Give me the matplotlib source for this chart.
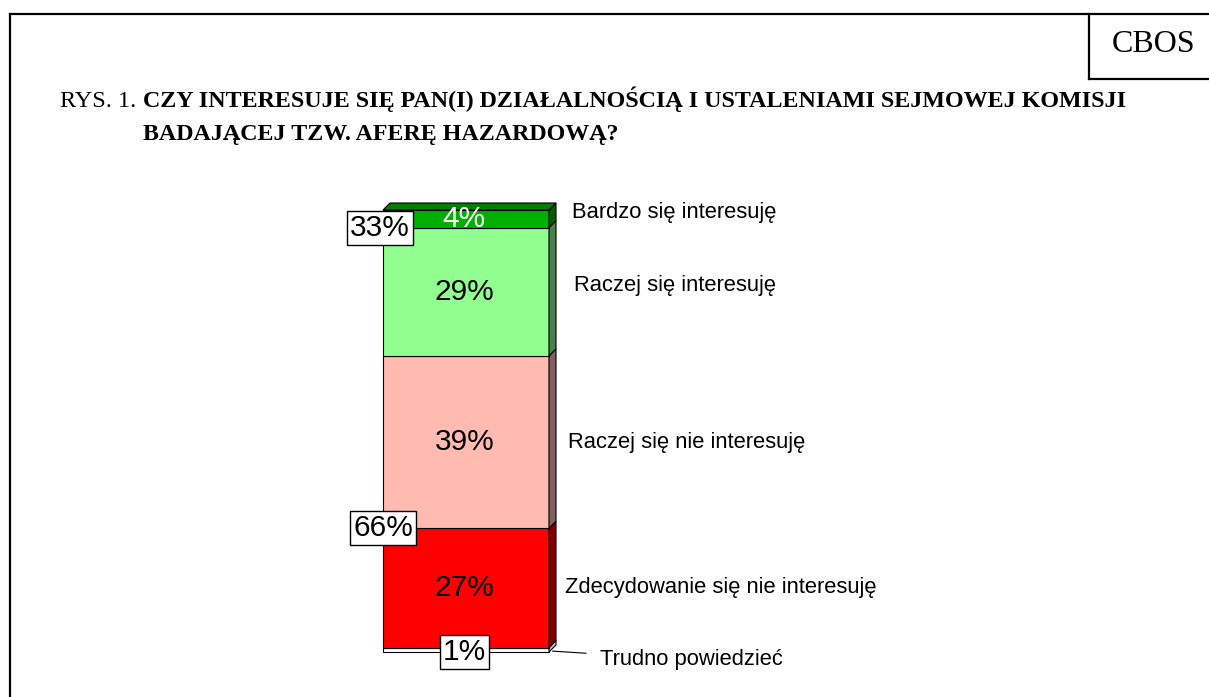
import matplotlib
matplotlib.use("Agg")
import matplotlib.pyplot as plt
from matplotlib.patches import Polygon

# Dane (od dołu słupka do góry)
kategorie = ["Trudno powiedzieć", "Zdecydowanie się nie interesuję",
             "Raczej się nie interesuję", "Raczej się interesuję",
             "Bardzo się interesuję"]
wartosci = [1, 27, 39, 29, 4]
suma_nie = 66   # zdecydowanie + raczej nie
suma_tak = 33   # bardzo + raczej tak

kolory = ["#FFFFFF", "#FF0000", "#FFBBB0", "#90FF90", "#00B000"]
kolory_bok = ["#C0C0C0", "#800000", "#806060", "#4A8050", "#006000"]
kolor_gora = "#008000"

# położenie podpisów kategorii (x, y w jednostkach osi)
podpisy_xy = [(0.807, -1.8), (0.596, 14.7), (0.614, 47.5), (0.651, 83.0), (0.639, 99.5)]

W, H = 1209, 697
fig = plt.figure(figsize=(W / 100, H / 100), dpi=100)
ax = fig.add_axes([0, 0, 1, 1])
# skala: słupek od 383 do 549 px, 0% na 652 px, 4.42 px na 1%
px_x, px_y = 166.0, 4.42
ax.set_xlim((0 - 466) / px_x, (W - 466) / px_x)
ax.set_ylim((652 - H) / px_y, 652 / px_y)
ax.axis("off")

dx, dy = 7 / px_x, 7 / px_y
dol = 0
for v, k, kb in zip(wartosci, kolory, kolory_bok):
    ax.bar(0, v, width=1, bottom=dol, color=k, edgecolor="black", linewidth=0.8, zorder=2)
    bok = Polygon([(0.5, dol), (0.5 + dx, dol + dy), (0.5 + dx, dol + v + dy), (0.5, dol + v)],
                  closed=True, facecolor=kb, edgecolor="black", linewidth=0.8, zorder=2)
    ax.add_patch(bok)
    dol += v
gora = Polygon([(-0.5, dol), (-0.5 + dx, dol + dy), (0.5 + dx, dol + dy), (0.5, dol)],
               closed=True, facecolor=kolor_gora, edgecolor="black", linewidth=0.8, zorder=2)
ax.add_patch(gora)

fs_num = 21.5
# wartości w segmentach
dol = 0
for i, v in enumerate(wartosci):
    sr = dol + v / 2
    if i == 0:
        ax.text(-0.01, sr - 0.6, f"{v}%", ha="center", va="center", fontsize=fs_num,
                family="Liberation Sans", zorder=4,
                bbox=dict(boxstyle="square,pad=0.1", fc="white", ec="black", lw=1))
    else:
        kol = "white" if i == len(wartosci) - 1 else "black"
        ax.text(-0.01, sr, f"{v}%", ha="center", va="center", fontsize=fs_num,
                family="Liberation Sans", color=kol, zorder=4)
    dol += v

# sumy
granica_nie = wartosci[0] + wartosci[1]
granica_tak = sum(wartosci) - wartosci[-1]
for s, y, x in [(suma_nie, granica_nie, -0.5), (suma_tak, granica_tak, -0.52)]:
    ax.text(x, y, f"{s}%", ha="center", va="center", fontsize=fs_num,
            family="Liberation Sans", zorder=5,
            bbox=dict(boxstyle="square,pad=0.1", fc="white", ec="black", lw=1))

# podpisy kategorii
for i, (nazwa, (x, y)) in enumerate(zip(kategorie, podpisy_xy)):
    if i == 0:
        ax.annotate(nazwa, xy=(0.5 + dx * 0.5, 0.2), xytext=(x, y), ha="left", va="center",
                    fontsize=15.8, family="Liberation Sans",
                    arrowprops=dict(arrowstyle="-", color="black", lw=0.8,
                                    shrinkA=8, shrinkB=0))
    else:
        ax.text(x, y, nazwa, ha="left", va="center", fontsize=15.8, family="Liberation Sans")

# ramka
T = ax.transAxes
lw = 1.6
x0, y0 = 10 / W, 1 - 14 / H
ax.plot([x0, 1], [y0, y0], color="black", lw=lw, transform=T, clip_on=False)
ax.plot([x0, x0], [0, y0], color="black", lw=lw, transform=T, clip_on=False)
ax.plot([1089 / W, 1089 / W], [y0, 1 - 79 / H], color="black", lw=lw, transform=T)
ax.plot([1089 / W, 1], [1 - 79 / H, 1 - 79 / H], color="black", lw=lw, transform=T)
ax.text(1154 / W, 1 - 45 / H, "CBOS", ha="center", va="center", fontsize=23,
        family="Liberation Serif", transform=T)

# tytuł
ax.text(60 / W, 1 - 107 / H, "RYS. 1.", ha="left", va="baseline", fontsize=17.5,
        family="Liberation Serif", transform=T)
ax.text(143 / W, 1 - 107 / H, "CZY INTERESUJE SIĘ PAN(I) DZIAŁALNOŚCIĄ I USTALENIAMI SEJMOWEJ KOMISJI",
        ha="left", va="baseline", fontsize=17.3, family="Liberation Serif", weight="bold", transform=T)
ax.text(143 / W, 1 - 140 / H, "BADAJĄCEJ TZW. AFERĘ HAZARDOWĄ?",
        ha="left", va="baseline", fontsize=17.3, family="Liberation Serif", weight="bold", transform=T)

fig.savefig("out.png", dpi=100)
